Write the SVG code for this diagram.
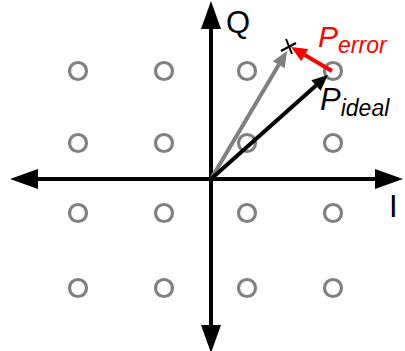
<svg xmlns="http://www.w3.org/2000/svg" width="405" height="351" viewBox="0 0 405 351">
<style>
.pt{fill:none;stroke:#808080;stroke-width:3.2}
.axis{stroke:#000;stroke-width:4;fill:none}
.vec{stroke-width:4;fill:none}
.lbl{font-family:"Liberation Sans",Arial,sans-serif}
</style>
<defs>
<marker id="axh" markerUnits="userSpaceOnUse" markerWidth="28" markerHeight="20" refX="0" refY="10" orient="auto-start-reverse" overflow="visible">
<path d="M0,0 L28,10 L0,20 z" fill="#000"/>
</marker>
<marker id="ahk" markerUnits="userSpaceOnUse" markerWidth="16" markerHeight="14" refX="0" refY="7" orient="auto" overflow="visible">
<path d="M0,0 L16,7 L0,14 z" fill="#000"/>
</marker>
<marker id="ahg" markerUnits="userSpaceOnUse" markerWidth="16" markerHeight="14" refX="0" refY="7" orient="auto" overflow="visible">
<path d="M0,0 L16,7 L0,14 z" fill="#808080"/>
</marker>
<marker id="ahr" markerUnits="userSpaceOnUse" markerWidth="16" markerHeight="14" refX="0" refY="7" orient="auto" overflow="visible">
<path d="M0,0 L16,7 L0,14 z" fill="#ff0000"/>
</marker>
</defs>
<g id="constellation">
<circle class="pt" cx="78" cy="71" r="8.5"/><circle class="pt" cx="164" cy="71" r="8.5"/><circle class="pt" cx="247" cy="71" r="8.5"/><circle class="pt" cx="333" cy="71" r="8.5"/>
<circle class="pt" cx="78" cy="143" r="8.5"/><circle class="pt" cx="164" cy="143" r="8.5"/><circle class="pt" cx="247" cy="143" r="8.5"/><circle class="pt" cx="333" cy="143" r="8.5"/>
<circle class="pt" cx="78" cy="213" r="8.5"/><circle class="pt" cx="164" cy="213" r="8.5"/><circle class="pt" cx="247" cy="213" r="8.5"/><circle class="pt" cx="333" cy="213" r="8.5"/>
<circle class="pt" cx="78" cy="288" r="8.5"/><circle class="pt" cx="164" cy="288" r="8.5"/><circle class="pt" cx="247" cy="288" r="8.5"/><circle class="pt" cx="333" cy="288" r="8.5"/>
</g>
<g id="connectors">
<line class="axis" x1="38" y1="179" x2="375" y2="179" marker-start="url(#axh)" marker-end="url(#axh)"/>
<line class="axis" x1="211" y1="29" x2="211" y2="325" marker-start="url(#axh)" marker-end="url(#axh)"/>
<line class="vec" stroke="#808080" x1="211" y1="179" x2="278.8" y2="64.8" marker-end="url(#ahg)"/>
<line class="vec" stroke="#000" x1="211" y1="179" x2="316" y2="85.6" marker-end="url(#ahk)"/>
<line class="vec" stroke="#ff0000" x1="332" y1="71" x2="304.8" y2="55.1" marker-end="url(#ahr)"/>
</g>
<g id="error-point">
<line x1="281" y1="51" x2="296" y2="43" stroke="#000" stroke-width="2"/>
<line x1="286" y1="39" x2="292" y2="54" stroke="#000" stroke-width="2"/>
</g>
<g id="labels" class="lbl">
<text x="226" y="33" font-size="31">Q</text>
<text x="389" y="217" font-size="31">I</text>
<text x="318" y="47" font-size="30" font-style="italic" fill="#ff0000">P<tspan font-size="23" dy="6">error</tspan></text>
<text x="320" y="110" font-size="31" font-style="italic" fill="#000">P<tspan font-size="23" dy="6">ideal</tspan></text>
</g>
</svg>
